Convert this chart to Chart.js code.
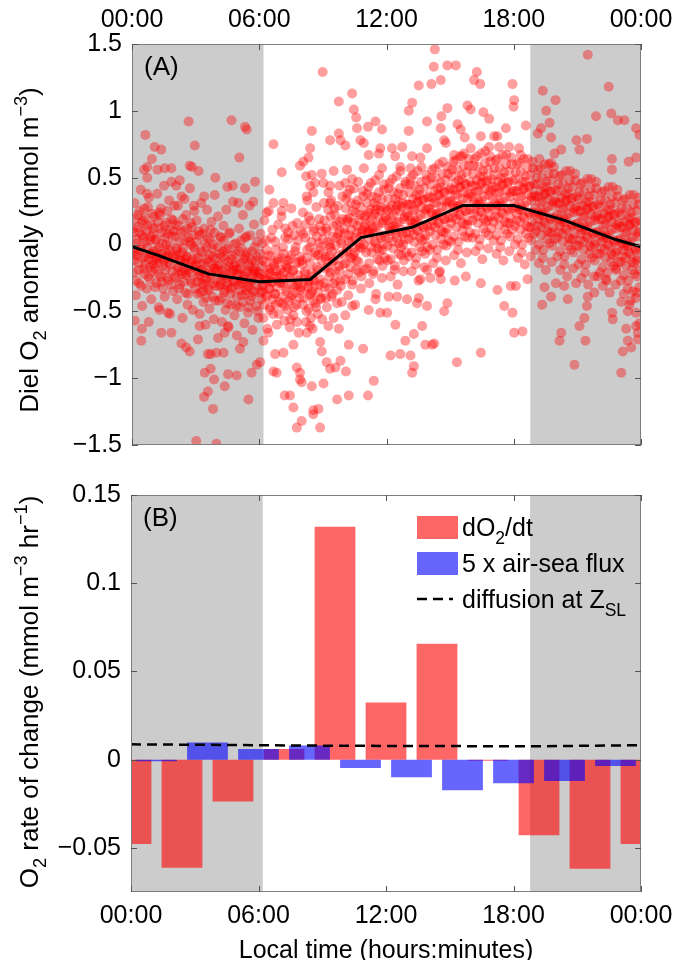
<!DOCTYPE html>
<html>
<head>
<meta charset="utf-8">
<script src="https://cdn.jsdelivr.net/npm/chart.js@4.4.0/dist/chart.umd.min.js"></script>
<style>
  html, body { margin: 0; padding: 0; background: #ffffff; }
  #page { position: relative; width: 675px; height: 960px; overflow: hidden; }
  #panelA { position: absolute; left: 0; top: 0; }
  #panelB { position: absolute; left: 0; top: 470px; }
</style>
</head>
<body>
<div id="page">
  <canvas id="panelA" width="675" height="470"></canvas>
  <canvas id="panelB" width="675" height="490"></canvas>
</div>
<script>
// ---------- data ----------
// Night (shaded) periods, local hours
const sunrise = 6.2;
const sunset = 18.78;

// Axis ticks
const hourTicks = [0, 6, 12, 18, 24];
const anomalyTicks = [-1.5, -1, -0.5, 0, 0.5, 1, 1.5];
const rateTicks = [-0.05, 0, 0.05, 0.1, 0.15];

// Diel O2 anomaly observations (mmol m-3), flat pairs: local hour, anomaly
const obsNight = [
  0.05,.12, 0.08,-.21, 0.12,.31, 0.15,-.05, 0.18,-.38, 0.22,.04, 0.27,.22, 0.3,-.14, 0.33,-.29, 0.37,.09, 0.41,.41, 0.44,-.02, 0.48,-.46, 0.52,.18, 0.55,-.18, 0.58,.27, 0.62,-.09, 0.66,.02, 0.7,-.33, 0.73,.14, 0.77,-.24, 0.8,.35, 0.84,-.07, 0.88,.06, 0.91,-.41, 0.95,.23, 0.98,-.12, 0.1,-.08, 0.47,.07, 0.85,-.17,
  0.02,-.03, 0.06,.09, 0.09,-.12, 0.13,.19, 0.17,-.27, 0.2,.01, 0.24,-.08, 0.28,.13, 0.32,-.19, 0.35,.25, 0.39,-.04, 0.43,-.31, 0.46,.16, 0.5,-.1, 0.54,.05, 0.57,-.22, 0.61,.2, 0.64,-.15, 0.68,.1, 0.72,-.02, 0.75,.28, 0.79,-.11, 0.83,-.26, 0.86,.03, 0.9,.15, 0.93,-.07, 0.97,-.2, 0.99,.08,
  1.02,-.15, 1.05,.21, 1.09,-.32, 1.12,.03, 1.16,-.04, 1.19,.38, 1.23,-.22, 1.26,-.47, 1.3,.12, 1.33,-.1, 1.37,.27, 1.4,-.28, 1.44,.01, 1.47,-.16, 1.51,.44, 1.54,-.39, 1.58,-.06, 1.61,.16, 1.65,-.25, 1.68,.08, 1.72,-.13, 1.75,.33, 1.79,-.52, 1.82,-.01, 1.86,.19, 1.89,-.2, 1.93,-.35, 1.96,.1, 1.14,-.11, 1.56,.05, 1.7,-.08, 1.28,.24,
  1.01,-.05, 1.04,.12, 1.08,-.18, 1.11,.04, 1.15,-.29, 1.18,-.09, 1.22,.17, 1.25,-.14, 1.29,-.02, 1.32,.22, 1.36,-.24, 1.39,-.07, 1.43,.09, 1.46,-.33, 1.5,-.12, 1.53,.14, 1.57,-.19, 1.6,0, 1.64,-.1, 1.67,.25, 1.71,-.27, 1.74,-.04, 1.78,.11, 1.81,-.15, 1.85,-.3, 1.88,.06, 1.92,-.08, 1.95,.18,
  2.03,-.24, 2.06,.15, 2.1,-.08, 2.13,-.41, 2.17,.29, 2.2,-.17, 2.24,.02, 2.27,-.3, 2.31,-.12, 2.34,.36, 2.38,-.55, 2.41,-.03, 2.45,.1, 2.48,-.21, 2.52,-.36, 2.55,.22, 2.59,-.09, 2.62,-.45, 2.66,.05, 2.69,-.19, 2.73,.42, 2.76,-.27, 2.8,-.14, 2.83,.13, 2.87,-.49, 2.9,-.02, 2.94,.25, 2.97,-.33, 2.15,-.05, 2.5,-.11, 2.78,0, 2.35,-.22,
  2.01,-.1, 2.05,.06, 2.08,-.25, 2.12,-.03, 2.15,-.18, 2.19,.14, 2.22,-.33, 2.26,-.12, 2.29,.09, 2.33,-.2, 2.36,-.06, 2.4,.19, 2.43,-.28, 2.47,-.14, 2.5,.03, 2.54,-.23, 2.57,-.09, 2.61,.12, 2.64,-.37, 2.68,-.16, 2.71,.02, 2.75,-.21, 2.78,.16, 2.82,-.29, 2.85,-.11, 2.89,.07, 2.92,-.17, 2.96,-.04,
  3.02,-.11, 3.05,.18, 3.09,-.37, 3.12,-.24, 3.16,.07, 3.19,-.52, 3.23,-.15, 3.26,.31, 3.3,-.29, 3.33,-.06, 3.37,-.43, 3.4,.12, 3.44,-.21, 3.47,-.6, 3.51,-.02, 3.54,.26, 3.58,-.33, 3.61,-.13, 3.65,-.48, 3.68,.04, 3.72,-.26, 3.75,.17, 3.79,-.39, 3.82,-.09, 3.86,-.56, 3.89,.09, 3.93,-.18, 3.96,-.31, 3.14,-.2, 3.49,-.27, 3.77,-.03, 3.35,-.35,
  3.01,-.16, 3.04,.02, 3.08,-.28, 3.11,-.1, 3.15,.1, 3.18,-.23, 3.22,-.36, 3.25,-.05, 3.29,-.19, 3.32,.08, 3.36,-.3, 3.39,-.14, 3.43,.01, 3.46,-.25, 3.5,-.4, 3.53,-.11, 3.57,.05, 3.6,-.2, 3.64,-.34, 3.67,-.08, 3.71,.11, 3.74,-.22, 3.78,-.15, 3.81,-.29, 3.85,0, 3.88,-.18, 3.92,-.42, 3.95,-.1,
  4.03,-.16, 4.06,.21, 4.1,-.42, 4.13,-.07, 4.17,-.3, 4.2,.05, 4.24,-.58, 4.27,-.2, 4.31,.14, 4.34,-.36, 4.38,-.11, 4.41,-.49, 4.45,.26, 4.48,-.25, 4.52,-.03, 4.55,-.62, 4.59,-.17, 4.62,.09, 4.66,-.33, 4.69,-.45, 4.73,-.08, 4.76,.32, 4.8,-.27, 4.83,-.53, 4.87,-.14, 4.9,.01, 4.94,-.39, 4.97,-.22, 4.15,-.24, 4.5,-.31, 4.78,-.19, 4.29,-.05,
  4.01,-.2, 4.05,-.02, 4.08,-.31, 4.12,-.15, 4.15,.06, 4.19,-.27, 4.22,-.4, 4.26,-.09, 4.29,-.23, 4.33,.03, 4.36,-.34, 4.4,-.18, 4.43,-.04, 4.47,-.29, 4.5,-.44, 4.54,-.13, 4.57,.08, 4.61,-.24, 4.64,-.37, 4.68,-.11, 4.71,-.2, 4.75,-.32, 4.78,0, 4.82,-.16, 4.85,-.28, 4.89,-.07, 4.92,-.46, 4.96,-.19,
  5.02,-.3, 5.05,.12, 5.09,-.47, 5.12,-.18, 5.16,-.03, 5.19,-.38, 5.23,.22, 5.26,-.26, 5.3,-.59, 5.33,-.1, 5.37,-.34, 5.4,.06, 5.44,-.21, 5.47,-.51, 5.51,-.14, 5.54,.29, 5.58,-.42, 5.61,-.28, 5.65,-.05, 5.68,-.64, 5.72,-.19, 5.75,.15, 5.79,-.36, 5.82,-.12, 5.86,-.46, 5.89,.02, 5.93,-.24, 5.96,-.55, 5.14,-.27, 5.5,-.32, 5.77,-.2, 5.38,-.08,
  5.01,-.22, 5.04,-.05, 5.08,-.34, 5.11,-.14, 5.15,.03, 5.18,-.29, 5.22,-.43, 5.25,-.11, 5.29,-.24, 5.32,.05, 5.36,-.37, 5.39,-.2, 5.43,-.06, 5.46,-.31, 5.5,-.47, 5.53,-.16, 5.57,.07, 5.6,-.26, 5.64,-.39, 5.67,-.12, 5.71,-.22, 5.74,-.35, 5.78,-.02, 5.81,-.18, 5.85,-.3, 5.88,-.09, 5.92,-.5, 5.95,-.21,
  2.67,.92, 4.69,.93, 0.63,.82, 1.07,.73, 1.38,.71, 2.96,.74, 0.94,.64, 0.72,.58, 0.57,.56, 1.2,.56, 1.54,.57, 1.86,.57, 2.72,.59, 2.83,.58, 3.14,.55, 0.72,.5, 3.93,.5, 1.86,.47, 2.09,.44, 2.25,.48, 4.5,.43, 3.9,.37, 3.4,.36, 0.71,.38, 2.48,.34, 2.92,.29, 2.01,.29,
  0.13,-.57, 0.47,-.63, 0.79,-.58, 0.44,-.72, 1.38,-.66, 1.86,-.66, 2.33,-.74, 2.56,-.77, 2.72,-.8, 3.58,-.82, 3.71,-.82, 3.98,-.81, 4.32,-.81, 3.43,-.96, 3.87,-1.01, 4.53,-.97, 3.71,-.93, 3.4,-1.14, 3.58,-1.1, 3.82,-1.23, 3.03,-1.47, 3.98,-1.49, 4.37,-1.06, 4.06,-.7, 4.37,-.66, 4.53,-.61, 3.19,-.61, 3.11,-.71, 1.7,-.51, 1.3,-.49,
  5.33,.88, 5.41,.86, 5.06,.65, 5.33,.42, 5.8,.47, 4.75,.44, 5.02,.31, 5.72,.32, 5.49,-1.16, 5.64,-.96, 5.88,-.9, 4.94,-.98, 5.09,-.78, 5.25,-.73, 4.94,-.68
];
const obsMorning = [
  6.03,-.22, 6.06,.08, 6.1,-.41, 6.13,-.31, 6.17,-.12, 6.2,-.55, 6.24,.18, 6.27,-.26, 6.31,-.38, 6.34,-.04, 6.38,-.63, 6.41,-.19, 6.45,.25, 6.48,-.33, 6.52,-.47, 6.55,-.09, 6.59,-.28, 6.62,.11, 6.66,-.52, 6.69,-.16, 6.73,-.37, 6.76,.02, 6.8,-.24, 6.83,-.6, 6.87,-.13, 6.9,.15, 6.94,-.43, 6.97,-.29, 6.15,-.35, 6.5,-.21, 6.78,-.45, 6.36,-.27,
  6.01,-.25, 6.05,-.07, 6.08,-.36, 6.12,-.16, 6.15,.01, 6.19,-.31, 6.22,-.45, 6.26,-.13, 6.29,-.26, 6.33,.03, 6.36,-.39, 6.4,-.22, 6.43,-.08, 6.47,-.33, 6.5,-.49, 6.54,-.18, 6.57,.05, 6.61,-.28, 6.64,-.41, 6.68,-.14, 6.71,-.24, 6.75,-.37, 6.78,-.04, 6.82,-.2, 6.85,-.32, 6.89,-.11, 6.92,-.52, 6.96,-.23,
  7.02,-.19, 7.05,.21, 7.09,-.44, 7.12,-.29, 7.16,-.07, 7.19,-.57, 7.23,.12, 7.26,-.35, 7.3,-.15, 7.33,-.49, 7.37,.04, 7.4,-.25, 7.44,-.62, 7.47,-.11, 7.51,.27, 7.54,-.38, 7.58,-.2, 7.61,-.53, 7.65,.07, 7.68,-.31, 7.72,-.02, 7.75,-.45, 7.79,.16, 7.82,-.23, 7.86,-.66, 7.89,-.13, 7.93,-.34, 7.96,.1, 7.14,-.26, 7.48,-.4, 7.8,-.3, 7.35,-.18,
  7.01,-.28, 7.05,-.1, 7.08,-.39, 7.12,-.02, 7.15,-.21, 7.19,-.46, 7.22,.05, 7.26,-.17, 7.29,-.33, 7.33,-.12, 7.36,.09, 7.4,-.42, 7.43,-.24, 7.47,-.56, 7.5,-.08, 7.54,-.3, 7.57,.14, 7.61,-.19, 7.64,-.47, 7.68,-.05, 7.71,-.36, 7.75,-.14, 7.78,-.58, 7.82,.03, 7.85,-.27, 7.89,-.4, 7.92,-.09, 7.96,-.32,
  8.03,-.15, 8.06,.24, 8.1,-.4, 8.13,-.26, 8.17,.05, 8.2,-.58, 8.24,-.1, 8.27,.33, 8.31,-.32, 8.34,-.48, 8.38,-.02, 8.41,.18, 8.45,-.37, 8.48,-.21, 8.52,-.63, 8.55,.1, 8.59,-.27, 8.62,-.06, 8.66,-.44, 8.69,.28, 8.73,-.17, 8.76,-.52, 8.8,.01, 8.83,-.3, 8.87,.14, 8.9,-.41, 8.94,-.12, 8.97,-.56, 8.15,-.22, 8.5,-.35, 8.78,-.08, 8.36,-.28,
  8.01,-.12, 8.05,-.45, 8.08,.08, 8.12,-.33, 8.16,-.2, 8.19,.15, 8.23,-.5, 8.26,-.04, 8.3,-.27, 8.33,.21, 8.37,-.38, 8.4,-.14, 8.44,-.55, 8.47,.02, 8.51,-.24, 8.54,-.42, 8.58,.12, 8.61,-.31, 8.65,-.08, 8.68,-.47, 8.72,.06, 8.75,-.19, 8.79,-.36, 8.82,.19, 8.86,-.26, 8.89,-.02, 8.93,-.4, 8.96,.1,
  9.02,-.05, 9.05,.31, 9.09,-.32, 9.12,-.18, 9.16,.12, 9.19,-.47, 9.23,.02, 9.26,.39, 9.3,-.24, 9.33,-.09, 9.37,.21, 9.4,-.39, 9.44,-.13, 9.47,.06, 9.51,-.55, 9.54,.27, 9.58,-.2, 9.61,-.01, 9.65,.15, 9.68,-.34, 9.72,.08, 9.75,-.16, 9.79,.44, 9.82,-.27, 9.86,.03, 9.89,-.43, 9.93,.19, 9.96,-.07, 9.14,-.11, 9.49,-.29, 9.8,.1, 9.35,-.02,
  9.01,.04, 9.04,-.29, 9.08,.18, 9.11,-.09, 9.15,-.4, 9.18,.1, 9.22,-.17, 9.25,.26, 9.29,-.33, 9.32,0, 9.36,-.21, 9.39,.33, 9.43,-.05, 9.46,-.37, 9.5,.14, 9.53,-.12, 9.57,.22, 9.6,-.27, 9.64,.05, 9.67,-.44, 9.71,.29, 9.74,-.08, 9.78,-.2, 9.81,.17, 9.85,-.31, 9.88,.01, 9.92,.36, 9.95,-.15,
  10.03,.08, 10.06,-.26, 10.1,.34, 10.13,-.05, 10.17,.17, 10.2,-.38, 10.24,.02, 10.27,.41, 10.31,-.17, 10.34,.11, 10.38,-.3, 10.41,.25, 10.45,-.08, 10.48,.05, 10.52,-.45, 10.55,.3, 10.59,-.12, 10.62,.14, 10.66,.47, 10.69,-.21, 10.73,0, 10.76,.22, 10.8,-.33, 10.83,.09, 10.87,-.03, 10.9,.36, 10.94,-.19, 10.97,.13, 10.15,.19, 10.5,-.02, 10.78,.06, 10.36,-.1,
  10.01,.12, 10.05,-.14, 10.08,.27, 10.12,-.03, 10.15,.38, 10.19,-.22, 10.22,.07, 10.26,.2, 10.29,-.1, 10.33,.31, 10.36,.03, 10.4,-.27, 10.43,.16, 10.47,.42, 10.5,-.06, 10.54,.24, 10.57,-.19, 10.61,.09, 10.64,.33, 10.68,-.13, 10.71,.18, 10.75,-.02, 10.78,.28, 10.82,-.24, 10.85,.11, 10.89,.4, 10.92,0, 10.96,.21,
  11.02,.15, 11.05,-.18, 11.09,.38, 11.12,.04, 11.16,.24, 11.19,-.29, 11.23,.1, 11.26,.46, 11.3,-.06, 11.33,.19, 11.37,-.22, 11.4,.31, 11.44,.02, 11.47,.13, 11.51,-.37, 11.54,.35, 11.58,-.03, 11.61,.21, 11.65,.52, 11.68,-.12, 11.72,.07, 11.75,.28, 11.79,-.25, 11.82,.16, 11.86,0, 11.89,.41, 11.93,-.1, 11.96,.2, 11.14,.09, 11.49,.26, 11.8,-.04, 11.35,.12,
  11.01,.22, 11.04,-.06, 11.08,.31, 11.11,.1, 11.15,.43, 11.18,-.14, 11.22,.17, 11.25,.26, 11.29,-.02, 11.32,.36, 11.36,.08, 11.39,-.2, 11.43,.23, 11.46,.48, 11.5,.01, 11.53,.29, 11.57,-.11, 11.6,.14, 11.64,.39, 11.67,-.05, 11.71,.25, 11.74,.05, 11.78,.34, 11.81,-.16, 11.85,.18, 11.88,.45, 11.92,.06, 11.95,.27,
  8.99,1.29, 6.67,.75, 8.48,.85, 9.34,.78, 8.4,.72, 8.32,.65, 8.08,.62, 7.92,.59, 7.06,.54, 8.21,.51, 8.48,.52, 8.63,.46, 8.95,.53, 9.03,.46, 6.48,.41, 6.67,.31, 7.14,.31, 7.06,.25, 8.4,.44, 8.55,.39, 8.24,.36, 9.34,.44, 9.34,.31, 6.35,.24,
  8.87,-1.37, 7.77,-1.37, 8.0,-1.32, 7.2,-1.13, 7.45,-1.13, 8.55,-1.24, 8.79,-1.23, 8.55,-1.27, 7.61,-1.22, 6.82,-.96, 6.67,-.95, 7.92,-1.01, 8.0,-1.03, 8.48,-1.06, 9.03,-1.04, 9.34,-.93, 9.18,-.88, 6.04,-.88, 7.77,-.92, 7.92,-.96, 7.14,-.81, 6.75,-.82, 7.61,-.75, 8.87,-.73, 8.95,-.8, 6.2,-.72, 6.43,-.66, 8.4,-.61, 8.24,-.66, 9.26,-.61,
  10.38,1.13, 9.75,1.07, 10.46,1.01, 10.57,.95, 11.48,.92, 11.13,.88, 11.79,.86, 10.61,.87, 10.77,.78, 10.93,.76, 9.75,.83, 9.83,.78, 11.71,.72, 10.06,.74, 11.16,.67, 11.64,.68, 10.93,.57, 10.14,.56, 9.51,.55, 11.79,.57, 10.06,.46, 10.38,.49,
  9.67,-1.16, 10.22,-1.13, 11.13,-1.13, 11.4,-1.02, 10.09,-.95, 9.59,-.92, 9.83,-.87, 10.9,-.78, 10.22,-.75, 11.71,-.51, 11.16,-.49, 10.38,-.46, 10.06,-.53, 9.75,-.63, 11.48,-.41
];
const obsAfternoon = [
  12.03,.18, 12.06,-.12, 12.1,.42, 12.13,.05, 12.17,.27, 12.2,-.24, 12.24,.13, 12.27,.49, 12.31,-.03, 12.34,.22, 12.38,-.19, 12.41,.34, 12.45,.08, 12.48,.16, 12.52,-.3, 12.55,.38, 12.59,.01, 12.62,.25, 12.66,.55, 12.69,-.08, 12.73,.11, 12.76,.31, 12.8,-.2, 12.83,.19, 12.87,.04, 12.9,.45, 12.94,-.06, 12.97,.23, 12.15,.1, 12.5,.29, 12.78,0, 12.36,.14,
  12.01,.25, 12.05,-.01, 12.08,.34, 12.12,.13, 12.15,.46, 12.19,-.11, 12.22,.2, 12.26,.29, 12.29,.02, 12.33,.39, 12.36,.11, 12.4,-.16, 12.43,.26, 12.47,.51, 12.5,.05, 12.54,.32, 12.57,-.07, 12.61,.17, 12.64,.42, 12.68,-.02, 12.71,.28, 12.75,.08, 12.78,.37, 12.82,-.12, 12.85,.21, 12.89,.47, 12.92,.09, 12.96,.3,
  13.02,.21, 13.05,-.09, 13.09,.45, 13.12,.09, 13.16,.3, 13.19,-.2, 13.23,.16, 13.26,.52, 13.3,.02, 13.33,.26, 13.37,-.15, 13.4,.37, 13.44,.11, 13.47,.19, 13.51,-.27, 13.54,.41, 13.58,.05, 13.61,.28, 13.65,.58, 13.68,-.05, 13.72,.14, 13.75,.34, 13.79,-.17, 13.82,.23, 13.86,.07, 13.89,.48, 13.93,-.02, 13.96,.27, 13.14,.13, 13.49,.32, 13.8,.04, 13.35,.18,
  13.01,.3, 13.05,.04, 13.08,.39, 13.12,.18, 13.15,.5, 13.19,-.06, 13.22,.25, 13.26,.34, 13.29,.07, 13.33,.44, 13.36,.16, 13.4,-.1, 13.43,.31, 13.47,.55, 13.5,.1, 13.54,.37, 13.57,-.02, 13.61,.22, 13.64,.47, 13.68,.03, 13.71,.33, 13.75,.13, 13.78,.42, 13.82,-.07, 13.85,.26, 13.89,.52, 13.92,.14, 13.96,.35,
  14.03,.27, 14.06,-.04, 14.1,.5, 14.13,.14, 14.17,.35, 14.2,-.14, 14.24,.21, 14.27,.57, 14.31,.07, 14.34,.31, 14.38,-.1, 14.41,.42, 14.45,.16, 14.48,.24, 14.52,-.2, 14.55,.46, 14.59,.1, 14.62,.33, 14.66,.62, 14.69,0, 14.73,.19, 14.76,.39, 14.8,-.12, 14.83,.28, 14.87,.12, 14.9,.53, 14.94,.03, 14.97,.32, 14.15,.18, 14.5,.37, 14.78,.09, 14.36,.23,
  14.01,.36, 14.05,.1, 14.08,.45, 14.12,.24, 14.15,.56, 14.19,0, 14.22,.31, 14.26,.4, 14.29,.13, 14.33,.5, 14.36,.22, 14.4,-.04, 14.43,.37, 14.47,.6, 14.5,.16, 14.54,.43, 14.57,.04, 14.61,.28, 14.64,.53, 14.68,.09, 14.71,.39, 14.75,.19, 14.78,.48, 14.82,-.01, 14.85,.32, 14.89,.58, 14.92,.2, 14.96,.41,
  15.02,.33, 15.05,.02, 15.09,.56, 15.12,.2, 15.16,.41, 15.19,-.08, 15.23,.27, 15.26,.63, 15.3,.13, 15.33,.37, 15.37,-.04, 15.4,.48, 15.44,.22, 15.47,.3, 15.51,-.14, 15.54,.52, 15.58,.16, 15.61,.39, 15.65,.68, 15.68,.06, 15.72,.25, 15.75,.45, 15.79,-.06, 15.82,.34, 15.86,.18, 15.89,.59, 15.93,.09, 15.96,.38, 15.14,.24, 15.49,.43, 15.8,.15, 15.35,.29,
  15.01,.42, 15.05,.16, 15.08,.51, 15.12,.3, 15.15,.62, 15.19,.06, 15.22,.37, 15.26,.46, 15.29,.19, 15.33,.56, 15.36,.28, 15.4,.02, 15.43,.43, 15.47,.66, 15.5,.22, 15.54,.49, 15.57,.1, 15.61,.34, 15.64,.59, 15.68,.15, 15.71,.45, 15.75,.25, 15.78,.54, 15.82,.05, 15.85,.38, 15.89,.64, 15.92,.26, 15.96,.47,
  16.03,.36, 16.06,.05, 16.1,.59, 16.13,.23, 16.17,.44, 16.2,-.05, 16.24,.3, 16.27,.66, 16.31,.16, 16.34,.4, 16.38,-.01, 16.41,.51, 16.45,.25, 16.48,.33, 16.52,-.11, 16.55,.55, 16.59,.19, 16.62,.42, 16.66,.7, 16.69,.09, 16.73,.28, 16.76,.48, 16.8,-.03, 16.83,.37, 16.87,.21, 16.9,.62, 16.94,.12, 16.97,.41, 16.15,.27, 16.5,.46, 16.78,.18, 16.36,.32,
  16.01,.44, 16.05,.18, 16.08,.53, 16.12,.32, 16.15,.64, 16.19,.08, 16.22,.39, 16.26,.48, 16.29,.21, 16.33,.58, 16.36,.3, 16.4,.04, 16.43,.45, 16.47,.68, 16.5,.24, 16.54,.51, 16.57,.12, 16.61,.36, 16.64,.61, 16.68,.17, 16.71,.47, 16.75,.27, 16.78,.56, 16.82,.07, 16.85,.4, 16.89,.66, 16.92,.28, 16.96,.49,
  17.02,.34, 17.05,.03, 17.09,.57, 17.12,.21, 17.16,.43, 17.19,-.07, 17.23,.29, 17.26,.64, 17.3,.14, 17.33,.39, 17.37,-.02, 17.4,.5, 17.44,.24, 17.47,.32, 17.51,-.12, 17.54,.54, 17.58,.17, 17.61,.41, 17.65,.67, 17.68,.08, 17.72,.27, 17.75,.47, 17.79,-.05, 17.82,.36, 17.86,.2, 17.89,.6, 17.93,.11, 17.96,.4, 17.14,.26, 17.49,.45, 17.8,.16, 17.35,.31,
  17.01,.43, 17.05,.17, 17.08,.52, 17.12,.31, 17.15,.63, 17.19,.07, 17.22,.38, 17.26,.47, 17.29,.2, 17.33,.57, 17.36,.29, 17.4,.03, 17.43,.44, 17.47,.67, 17.5,.23, 17.54,.5, 17.57,.11, 17.61,.35, 17.64,.6, 17.68,.16, 17.71,.46, 17.75,.26, 17.78,.55, 17.82,.06, 17.85,.39, 17.89,.65, 17.92,.27, 17.96,.48,
  14.28,1.46, 14.23,1.33, 13.52,1.19, 14.12,1.2, 13.21,1.06, 13.05,1.0, 13.91,.92, 13.05,.85, 12.26,.72, 12.74,.73, 12.41,.66, 13.21,.66, 13.91,.72, 12.65,.58, 13.13,.57, 13.6,.65,
  12.19,-.83, 12.65,-.82, 13.13,-.83, 13.29,-.91, 13.21,-.96, 13.83,-.75, 14.15,-.75, 12.89,-.72, 13.29,-.67, 13.68,-.61, 12.42,-.6, 12.03,-.51, 13.91,-.46, 13.44,-.44, 13.52,-.4, 12.97,-.41, 12.5,-.39, 12.1,-.39, 13.6,-.26, 14.07,-.25, 13.91,-.19,
  14.87,1.34, 15.27,1.34, 16.26,1.29, 16.13,1.23, 16.42,1.2, 14.56,1.23, 17.94,1.2, 17.99,1.03, 15.82,1.04, 15.97,1.01, 16.57,.99, 16.84,.94, 14.87,1.02, 14.59,.96, 17.63,.87, 17.23,.81, 17.08,.81, 15.35,.9, 15.5,.86, 15.69,.8, 16.45,.81, 14.56,.87, 14.72,.78, 14.8,.76, 17.78,.73, 15.97,.72, 16.84,.73, 17.31,.73, 15.19,.67, 15.58,.66,
  15.32,-.88, 16.45,-.81, 14.25,-.74, 17.55,-.46, 17.94,-.51, 17.23,-.34, 17.86,-.31, 14.87,-.44, 14.72,-.5, 16.45,-.29, 15.74,-.24, 15.22,-.27, 14.48,-.21, 14.56,-.26
];
const obsEvening = [
  18.03,.31, 18.06,0, 18.1,.54, 18.13,.18, 18.17,.4, 18.2,-.1, 18.24,.26, 18.27,.61, 18.31,.11, 18.34,.36, 18.38,-.06, 18.41,.47, 18.45,.21, 18.48,.29, 18.52,-.15, 18.55,.51, 18.59,.14, 18.62,.38, 18.66,.64, 18.69,.05, 18.73,.24, 18.76,.44, 18.8,-.09, 18.83,.33, 18.87,.17, 18.9,.57, 18.94,.08, 18.97,.37, 18.14,.23, 18.49,.42, 18.79,.13, 18.36,.28,
  18.01,.4, 18.05,.14, 18.08,.49, 18.12,.28, 18.15,.6, 18.19,.04, 18.22,.35, 18.26,.44, 18.29,.17, 18.33,.54, 18.36,.26, 18.4,0, 18.43,.41, 18.47,.64, 18.5,.2, 18.54,.47, 18.57,.08, 18.61,.32, 18.64,.57, 18.68,.13, 18.71,.43, 18.75,.23, 18.78,.52, 18.82,.03, 18.85,.36, 18.89,.62, 18.92,.24, 18.96,.45,
  19.02,.27, 19.05,-.04, 19.09,.5, 19.12,.14, 19.16,.36, 19.19,-.14, 19.23,.22, 19.26,.57, 19.3,.07, 19.33,.32, 19.37,-.1, 19.4,.43, 19.44,.17, 19.47,.25, 19.51,-.19, 19.54,.47, 19.58,.1, 19.61,.34, 19.65,.6, 19.68,.01, 19.72,.2, 19.75,.4, 19.79,-.13, 19.82,.29, 19.86,.13, 19.89,.53, 19.93,.04, 19.96,.33, 19.14,.19, 19.49,.38, 19.8,.09, 19.35,.24,
  19.01,.36, 19.05,.1, 19.08,.45, 19.12,.24, 19.15,.56, 19.19,0, 19.22,.31, 19.26,.4, 19.29,.13, 19.33,.5, 19.36,.22, 19.4,-.04, 19.43,.37, 19.47,.6, 19.5,.16, 19.54,.43, 19.57,.04, 19.61,.28, 19.64,.53, 19.68,.09, 19.71,.39, 19.75,.19, 19.78,.48, 19.82,-.01, 19.85,.32, 19.89,.58, 19.92,.2, 19.96,.41,
  20.03,.22, 20.06,-.09, 20.1,.45, 20.13,.09, 20.17,.31, 20.2,-.19, 20.24,.17, 20.27,.52, 20.31,.02, 20.34,.27, 20.38,-.15, 20.41,.38, 20.45,.12, 20.48,.2, 20.52,-.24, 20.55,.42, 20.59,.05, 20.62,.29, 20.66,.55, 20.69,-.04, 20.73,.15, 20.76,.35, 20.8,-.18, 20.83,.24, 20.87,.08, 20.9,.48, 20.94,-.01, 20.97,.28, 20.14,.14, 20.49,.33, 20.79,.04, 20.36,.19,
  20.01,.31, 20.05,.05, 20.08,.4, 20.12,.19, 20.15,.51, 20.19,-.05, 20.22,.26, 20.26,.35, 20.29,.08, 20.33,.45, 20.36,.17, 20.4,-.09, 20.43,.32, 20.47,.55, 20.5,.11, 20.54,.38, 20.57,-.01, 20.61,.23, 20.64,.48, 20.68,.04, 20.71,.34, 20.75,.14, 20.78,.43, 20.82,-.06, 20.85,.27, 20.89,.53, 20.92,.15, 20.96,.36,
  21.02,.16, 21.05,-.15, 21.09,.39, 21.12,.03, 21.16,.25, 21.19,-.25, 21.23,.11, 21.26,.46, 21.3,-.04, 21.33,.21, 21.37,-.21, 21.4,.32, 21.44,.06, 21.47,.14, 21.51,-.3, 21.54,.36, 21.58,-.01, 21.61,.23, 21.65,.49, 21.68,-.1, 21.72,.09, 21.75,.29, 21.79,-.24, 21.82,.18, 21.86,.02, 21.89,.42, 21.93,-.07, 21.96,.22, 21.14,.08, 21.49,.27, 21.79,0, 21.35,.13,
  21.01,.25, 21.05,-.01, 21.08,.34, 21.12,.13, 21.15,.45, 21.19,-.11, 21.22,.2, 21.26,.29, 21.29,.02, 21.33,.39, 21.36,.11, 21.4,-.15, 21.43,.26, 21.47,.49, 21.5,.05, 21.54,.32, 21.57,-.07, 21.61,.17, 21.64,.42, 21.68,-.02, 21.71,.28, 21.75,.08, 21.78,.37, 21.82,-.12, 21.85,.21, 21.89,.47, 21.92,.09, 21.96,.3,
  22.03,.1, 22.06,-.21, 22.1,.33, 22.13,-.03, 22.17,.19, 22.2,-.31, 22.24,.05, 22.27,.4, 22.31,-.1, 22.34,.15, 22.38,-.27, 22.41,.26, 22.45,0, 22.48,.08, 22.52,-.36, 22.55,.3, 22.59,-.07, 22.62,.17, 22.66,.43, 22.69,-.16, 22.73,.03, 22.76,.23, 22.8,-.3, 22.83,.12, 22.87,-.04, 22.9,.36, 22.94,-.13, 22.97,.16, 22.14,.02, 22.49,.21, 22.79,-.06, 22.35,.07,
  22.01,.19, 22.05,-.07, 22.08,.28, 22.12,.07, 22.15,.39, 22.19,-.17, 22.22,.14, 22.26,.23, 22.29,-.04, 22.33,.33, 22.36,.05, 22.4,-.21, 22.43,.2, 22.47,.43, 22.5,-.01, 22.54,.26, 22.57,-.13, 22.61,.11, 22.64,.36, 22.68,-.08, 22.71,.22, 22.75,.02, 22.78,.31, 22.82,-.18, 22.85,.15, 22.89,.41, 22.92,.03, 22.96,.24,
  23.02,.04, 23.05,-.27, 23.09,.27, 23.12,-.09, 23.16,.13, 23.19,-.37, 23.23,-.01, 23.26,.34, 23.3,-.16, 23.33,.09, 23.37,-.33, 23.4,.2, 23.44,-.06, 23.47,.02, 23.51,-.42, 23.54,.24, 23.58,-.13, 23.61,.11, 23.65,.37, 23.68,-.22, 23.72,-.03, 23.75,.17, 23.79,-.36, 23.82,.06, 23.86,-.1, 23.9,.3, 23.94,-.19, 23.97,.1, 23.14,-.04, 23.49,.15, 23.79,-.12, 23.35,.01,
  23.01,.13, 23.05,-.13, 23.08,.22, 23.12,.01, 23.15,.33, 23.19,-.23, 23.22,.08, 23.26,.17, 23.29,-.1, 23.33,.27, 23.36,-.01, 23.4,-.27, 23.43,.14, 23.47,.37, 23.5,-.07, 23.54,.2, 23.57,-.19, 23.61,.05, 23.64,.3, 23.68,-.14, 23.71,.16, 23.75,-.04, 23.78,.25, 23.82,-.24, 23.85,.09, 23.89,.35, 23.92,-.03, 23.96,.18,
  18.02,1.08, 18.57,.89, 18.25,.72, 18.33,.67, 18.02,-.66, 18.41,-.65, 18.1,-.31, 18.65,-.26,
  21.49,1.42, 22.48,1.18, 19.37,1.15, 19.97,1.08, 19.53,1.0, 21.88,.96, 22.6,.98, 22.91,.93, 23.22,.93, 23.77,.87, 23.93,.82, 19.69,.91, 19.29,.87, 19.14,.83, 19.76,.8, 20.96,.78, 21.45,.79, 21.1,.71, 23.42,.62, 23.77,.65, 22.63,.64, 22.63,.56, 20.24,.71, 19.92,.68, 19.76,.61, 19.21,.64,
  20.86,-.9, 23.07,-.96, 21.38,-.72, 20.24,-.66, 20.16,-.72, 21.1,-.61, 21.33,-.55, 21.45,-.46, 19.34,-.45, 19.76,-.39, 20.55,-.41, 23.14,-.8, 23.38,-.72, 23.54,-.77, 23.3,-.63, 22.67,-.56, 22.64,-.51, 23.07,-.43, 23.38,-.5, 23.46,-.45, 23.77,-.51, 23.93,-.59, 23.85,-.66, 23.85,-.71, 23.77,-.61, 19.45,-.32, 19.99,-.29, 20.38,-.31, 20.94,-.29, 21.49,-.39, 21.8,-.36, 21.96,-.24, 22.35,-.26, 22.83,-.19, 23.62,-.35, 23.77,-.4, 23.93,-.32
];

// Bin-mean diel anomaly (mmol m-3)
const meanHours = [0, 1.2, 3.6, 6.0, 8.4, 10.8, 13.2, 15.6, 18.0, 20.4, 22.8, 24];
const meanAnomaly = [-0.017, -0.08, -0.22, -0.278, -0.262, 0.052, 0.129, 0.292, 0.292, 0.181, 0.037, -0.017];

// Rates of change (mmol m-3 hr-1)
const rateHours = [0, 2.4, 4.8, 7.2, 9.6, 12, 14.4, 16.8, 19.2, 21.6, 24];
const dO2dt = [-0.0478, -0.0612, -0.0237, 0.006, 0.132, 0.0324, 0.0657, -0.0006, -0.0428, -0.0618, -0.0478];
const fluxHours = [1.2, 3.6, 6.0, 8.4, 10.8, 13.2, 15.6, 18.0, 20.4, 22.8];
const airSeaFlux5x = [-0.0009, 0.0097, 0.006, 0.008, -0.0047, -0.0099, -0.0174, -0.0133, -0.0121, -0.0036];
const diffusionHours = [0, 4.8, 9.6, 14.4, 19.2, 24];
const diffusionZsl = [0.0087, 0.0083, 0.0079, 0.0077, 0.0076, 0.0082];

// ---------- helpers ----------
const FONT = '"Liberation Sans", Arial, Helvetica, sans-serif';
const fontPx = px => px + 'px ' + FONT;
Chart.defaults.font.family = FONT;
Chart.defaults.color = '#000000';

const toPoints = flat => {
  const out = [];
  for (let i = 0; i < flat.length; i += 2) out.push({ x: flat[i], y: flat[i + 1] });
  return out;
};
const zip = (xs, ys) => xs.map((x, i) => ({ x, y: ys[i] }));
const hhmm = v => String(v % 24).padStart(2, '0') + ':00';
const signed = v => (v < 0 ? '\u2212' + String(Math.abs(v)) : String(v));
const setTicks = list => scale => { scale.ticks = list.map(value => ({ value })); };
const fitX = h => s => { s.height = h; s.paddingLeft = 0; s.paddingRight = 0; };

const RED = 'rgba(255,0,0,0.6)';
const BLUE = 'rgba(0,0,255,0.6)';
const DOT = 'rgba(255,0,0,0.38)';

// Rich text: parts = [{t, s: 'sub'|'sup'|undefined}]
function drawRich(ctx, parts, x, y, size, align) {
  const small = size * 0.7;
  let width = 0;
  for (const p of parts) { ctx.font = fontPx(p.s ? small : size); width += ctx.measureText(p.t).width; }
  let cx = align === 'center' ? x - width / 2 : x;
  ctx.textAlign = 'left';
  ctx.textBaseline = 'alphabetic';
  for (const p of parts) {
    ctx.font = fontPx(p.s ? small : size);
    const dy = p.s === 'sub' ? size * 0.3 : (p.s === 'sup' ? -size * 0.42 : 0);
    ctx.fillText(p.t, cx, y + dy);
    cx += ctx.measureText(p.t).width;
  }
}

// Night shading, axes box with inward ticks, panel letter and y title
const panelFrame = {
  id: 'panelFrame',
  beforeDatasetsDraw(chart) {
    const { ctx, chartArea: a } = chart;
    const x = chart.scales.x;
    ctx.save();
    ctx.fillStyle = '#cccccc';
    for (const [t0, t1] of [[0, sunrise], [sunset, 24]]) {
      const p0 = x.getPixelForValue(t0), p1 = x.getPixelForValue(t1);
      ctx.fillRect(p0, a.top, p1 - p0, a.bottom - a.top);
    }
    ctx.restore();
  },
  afterDatasetsDraw(chart, _args, o) {
    const { ctx, chartArea: a } = chart;
    const x = chart.scales.x, y = chart.scales.y;
    ctx.save();
    ctx.strokeStyle = '#7d7d7d';
    ctx.lineWidth = 1;
    ctx.strokeRect(a.left + 0.5, a.top + 0.5, a.right - a.left - 1, a.bottom - a.top - 1);
    ctx.strokeStyle = '#555555';
    ctx.beginPath();
    const tl = 6;
    for (const t of x.ticks) {
      const px = Math.round(x.getPixelForValue(t.value)) + 0.5;
      ctx.moveTo(px, a.top); ctx.lineTo(px, a.top + tl);
      ctx.moveTo(px, a.bottom); ctx.lineTo(px, a.bottom - tl);
    }
    for (const t of y.ticks) {
      const py = Math.round(y.getPixelForValue(t.value)) + 0.5;
      ctx.moveTo(a.left, py); ctx.lineTo(a.left + tl, py);
      ctx.moveTo(a.right, py); ctx.lineTo(a.right - tl, py);
    }
    ctx.stroke();
    ctx.fillStyle = '#000000';
    ctx.font = fontPx(o.letterSize);
    ctx.textAlign = 'left';
    ctx.textBaseline = 'middle';
    ctx.fillText(o.letter, a.left + 12, a.top + 24);
    ctx.restore();
  },
  afterDraw(chart, _args, o) {
    const { ctx } = chart;
    ctx.save();
    ctx.fillStyle = '#000000';
    ctx.translate(o.titleX, o.titleY);
    ctx.rotate(-Math.PI / 2);
    drawRich(ctx, o.title, 0, 0, o.titleSize, 'center');
    ctx.restore();
  }
};

// Legend and x title of panel B
const rateLegend = {
  id: 'rateLegend',
  afterDatasetsDraw(chart) {
    const { ctx, chartArea: a } = chart;
    const left = a.left + 286;
    const size = 25;
    ctx.save();
    ctx.fillStyle = RED;
    ctx.fillRect(left, a.top + 21, 41, 23);
    ctx.fillStyle = BLUE;
    ctx.fillRect(left, a.top + 57, 41, 23);
    ctx.strokeStyle = '#000000';
    ctx.lineWidth = 2.5;
    ctx.setLineDash([10, 6]);
    ctx.beginPath();
    ctx.moveTo(left, a.top + 104); ctx.lineTo(left + 36, a.top + 104);
    ctx.stroke();
    ctx.setLineDash([]);
    ctx.fillStyle = '#000000';
    const tx = left + 45;
    drawRich(ctx, [{ t: 'dO' }, { t: '2', s: 'sub' }, { t: '/dt' }], tx, a.top + 41, size, 'left');
    drawRich(ctx, [{ t: '5 x air-sea flux' }], tx, a.top + 77, size, 'left');
    drawRich(ctx, [{ t: 'diffusion at Z' }, { t: 'SL', s: 'sub' }], tx, a.top + 113, size, 'left');
    ctx.restore();
  },
  afterDraw(chart) {
    const { ctx, chartArea: a } = chart;
    ctx.save();
    ctx.fillStyle = '#000000';
    drawRich(ctx, [{ t: 'Local time (hours:minutes)' }], (a.left + a.right) / 2, a.bottom + 66, 25, 'center');
    ctx.restore();
  }
};

// ---------- panel A: diel anomaly ----------
new Chart(document.getElementById('panelA'), {
  type: 'scatter',
  data: {
    datasets: [
      {
        type: 'line', data: zip(meanHours, meanAnomaly), order: 0,
        borderColor: '#000000', borderWidth: 3, pointRadius: 0, fill: false, tension: 0, clip: 0
      },
      {
        data: toPoints(obsNight.concat(obsMorning, obsAfternoon, obsEvening)), order: 1,
        backgroundColor: DOT, borderWidth: 0, pointRadius: 5, clip: 0
      }
    ]
  },
  options: {
    responsive: false, animation: false, events: [],
    layout: { padding: { left: 0, right: 34, top: 0, bottom: 25 } },
    plugins: {
      legend: { display: false }, tooltip: { enabled: false },
      panelFrame: {
        letter: '(A)', letterSize: 26, titleX: 38, titleY: 250, titleSize: 26,
        title: [{ t: 'Diel O' }, { t: '2', s: 'sub' }, { t: ' anomaly (mmol m' }, { t: '\u22123', s: 'sup' }, { t: ')' }]
      }
    },
    scales: {
      x: {
        type: 'linear', position: 'top', min: 0, max: 24,
        afterBuildTicks: setTicks(hourTicks),
        afterFit: fitX(44),
        grid: { display: false, drawTicks: false }, border: { display: false },
        ticks: { font: { size: 25 }, padding: 9, maxRotation: 0, autoSkip: false, callback: hhmm }
      },
      y: {
        min: -1.5, max: 1.5,
        afterBuildTicks: setTicks(anomalyTicks),
        afterFit: s => { s.width = 132; },
        grid: { display: false, drawTicks: false }, border: { display: false },
        ticks: { font: { size: 25 }, padding: 10, callback: signed }
      }
    }
  },
  plugins: [panelFrame]
});

// ---------- panel B: rates of change ----------
new Chart(document.getElementById('panelB'), {
  type: 'bar',
  data: {
    datasets: [
      {
        type: 'line', data: zip(diffusionHours, diffusionZsl), order: 0, xAxisID: 'x',
        borderColor: '#000000', borderWidth: 2.5, borderDash: [10, 6], pointRadius: 0, fill: false, tension: 0
      },
      {
        data: zip(fluxHours, airSeaFlux5x), order: 1, xAxisID: 'xFlux', grouped: false,
        backgroundColor: BLUE, borderWidth: 0, barPercentage: 0.8, categoryPercentage: 1.0
      },
      {
        data: zip(rateHours, dO2dt), order: 2, xAxisID: 'x', grouped: false,
        backgroundColor: RED, borderWidth: 0, barPercentage: 0.8, categoryPercentage: 1.0
      }
    ]
  },
  options: {
    responsive: false, animation: false, events: [],
    layout: { padding: { left: 0, right: 34, top: 22, bottom: 0 } },
    plugins: {
      legend: { display: false }, tooltip: { enabled: false },
      panelFrame: {
        letter: '(B)', letterSize: 26, titleX: 38, titleY: 222, titleSize: 26,
        title: [{ t: 'O' }, { t: '2', s: 'sub' }, { t: ' rate of change (mmol m' }, { t: '\u22123', s: 'sup' }, { t: ' hr' }, { t: '\u22121', s: 'sup' }, { t: ')' }]
      }
    },
    scales: {
      x: {
        type: 'linear', position: 'bottom', min: 0, max: 24, offset: false,
        afterBuildTicks: setTicks(hourTicks),
        afterFit: fitX(68),
        grid: { display: false, drawTicks: false, offset: false }, border: { display: false },
        ticks: { font: { size: 25 }, padding: 9, maxRotation: 0, autoSkip: false, callback: hhmm }
      },
      xFlux: {
        type: 'linear', display: false, min: 0, max: 24, offset: false,
        grid: { offset: false }
      },
      y: {
        min: -0.075, max: 0.15,
        afterBuildTicks: setTicks(rateTicks),
        afterFit: s => { s.width = 131; },
        grid: { display: false, drawTicks: false }, border: { display: false },
        ticks: { font: { size: 25 }, padding: 10, callback: signed }
      }
    }
  },
  plugins: [panelFrame, rateLegend]
});
</script>
</body>
</html>
